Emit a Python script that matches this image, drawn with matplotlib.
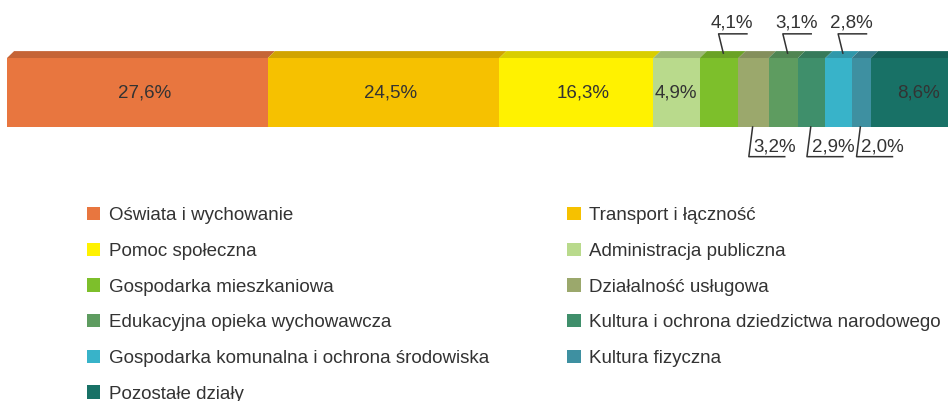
import matplotlib
matplotlib.use("Agg")
import matplotlib.pyplot as plt
from matplotlib.patches import Polygon, Patch
import matplotlib.colors as mcolors
import numpy as np

plt.rcParams['font.family'] = ['Liberation Sans', 'DejaVu Sans']

categories = [
    "Oświata i wychowanie",
    "Transport i łączność",
    "Pomoc społeczna",
    "Administracja publiczna",
    "Gospodarka mieszkaniowa",
    "Działalność usługowa",
    "Edukacyjna opieka wychowawcza",
    "Kultura i ochrona dziedzictwa narodowego",
    "Gospodarka komunalna i ochrona środowiska",
    "Kultura fizyczna",
    "Pozostałe działy",
]
values = [27.6, 24.5, 16.3, 4.9, 4.1, 3.2, 3.1, 2.9, 2.8, 2.0, 8.6]
labels = ["27,6%", "24,5%", "16,3%", "4,9%", "4,1%", "3,2%", "3,1%", "2,9%", "2,8%", "2,0%", "8,6%"]
colors = ["#E8763F", "#F6C100", "#FFF200", "#B9DA8C", "#7DBF2B", "#9BA86C",
          "#5E9C60", "#3F8F6B", "#38B3C9", "#3E90A1", "#187166"]
# label placement: 'in' centered, 'inleft', 'inright', 'top', 'bottom'
placement = ["in", "in", "in", "inleft", "top", "bottom", "top", "bottom", "top", "bottom", "inright"]

W, H = 948, 401
fig = plt.figure(figsize=(W / 100, H / 100), dpi=100)
ax = fig.add_axes([7 / W, (H - 127) / H, 945 / W, 69 / H])
ax.set_xlim(0, 100)
ax.set_ylim(0, 1)
ax.axis('off')

FS = 13.5
TXT = "#333333"
shift = 0.75   # top face skew (data units)
depth = 0.1    # top face height (data units)

lefts = np.concatenate([[0], np.cumsum(values)[:-1]])
ax.barh(0.5, values, left=lefts, height=1.0, color=colors, edgecolor='none', clip_on=False)

for l, v, c in zip(lefts, values, colors):
    dark = np.array(mcolors.to_rgb(c)) * 0.85
    poly = Polygon([(l, 1), (l + v, 1), (l + v + shift, 1 + depth), (l + shift, 1 + depth)],
                   closed=True, facecolor=dark, edgecolor='none', clip_on=False)
    ax.add_patch(poly)

lw = 1.1
for l, v, lab, p in zip(lefts, values, labels, placement):
    cx = l + v / 2
    if p == "in":
        ax.text(cx + 0.75, 0.5, lab, ha='center', va='center', fontsize=FS, color=TXT)
    elif p == "inleft":
        ax.text(l + 0.1, 0.5, lab, ha='left', va='center', fontsize=FS, color=TXT)
    elif p == "inright":
        ax.text(l + v - 1.3, 0.5, lab, ha='right', va='center', fontsize=FS, color=TXT)
    elif p == "top":
        x0 = cx + 0.45
        y0 = 1.07
        x1 = cx - 0.05
        y1 = 1.35
        ax.plot([x0, x1, x1 + 3.0], [y0, y1, y1], color="#333333", lw=lw, clip_on=False)
        ax.text(x1 + 1.45, y1 + 0.04, lab, ha='center', va='bottom', fontsize=FS, color=TXT)
    elif p == "bottom":
        x0 = cx - 0.1
        y0 = 0.0
        x1 = x0 - 0.4
        y1 = -0.43
        ax.plot([x0, x1, x1 + 3.8], [y0, y1, y1], color="#333333", lw=lw, clip_on=False)
        ax.text(x1 + 0.5, y1 + 0.02, lab, ha='left', va='bottom', fontsize=FS, color=TXT)

# legend: two columns, row-wise reading order
order = list(range(0, 11, 2)) + list(range(1, 11, 2))
handles = [Patch(facecolor=colors[i], edgecolor='none') for i in order]
leg_labels = [categories[i] for i in order]
fig.legend(handles, leg_labels, ncol=2, loc='upper left',
           bbox_to_anchor=(87 / W, 1 - 207 / H), frameon=False,
           fontsize=FS, handlelength=0.7, handleheight=0.7, handletextpad=0.45,
           labelspacing=0.99, columnspacing=4.19, labelcolor=TXT, borderaxespad=0, borderpad=0)

fig.savefig("out.png", dpi=100)
